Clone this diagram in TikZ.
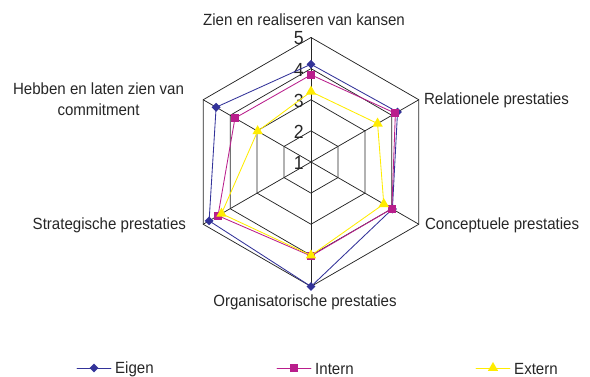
\documentclass[tikz,border=0pt]{standalone}
\usepackage{fontspec}
\setmainfont[FakeStretch=0.93]{Liberation Sans}
\usetikzlibrary{shapes.geometric}
\definecolor{eigen}{RGB}{51,51,153}
\definecolor{intern}{RGB}{185,30,140}
\definecolor{extern}{RGB}{255,236,0}
\begin{document}
\begin{tikzpicture}[font=\fontsize{16.2}{21}\selectfont, line join=round, line cap=round, x=1pt, y=1pt,
  grid/.style={black!85, line width=0.75pt},
  series/.style={line width=0.85pt},
  eigenmark/.style={diamond, fill=eigen, inner sep=0pt, minimum size=9pt},
  internmark/.style={rectangle, fill=intern, inner sep=0pt, minimum size=8pt},
  externmark/.style={regular polygon, regular polygon sides=3, fill=extern, inner sep=0pt, minimum size=12pt},
  axislabel/.style={inner sep=0pt, align=center, text=black!85}]
\def \u{31.125};
\useasboundingbox (0,0) rectangle (590,377);
\begin{scope}[shift={(311,215)}]
\coordinate (M) at (0,0);
\foreach \a [count=\i] in {90,30,-30,-90,-150,150}{\coordinate (o\i) at (\a:4*\u);}
% raster
\foreach \r in {1,...,4}{\draw[grid] (90:\r*\u) \foreach \a in {30,-30,-90,-150,150}{-- (\a:\r*\u)} -- cycle;}
\foreach \i in {1,...,6}{\draw[grid] (M) -- (o\i);}
\foreach \v in {1,...,5}{\node[anchor=east, inner sep=0pt, text=black!85, font=\fontsize{19}{19}\selectfont] (t\v) at (-7,{(\v-1)*\u-1}) {\v};}
% Eigen
\foreach \a/\v [count=\i] in {90/4.14,30/4.21,-30/4.02,-90/5,-150/4.78,150/4.52}{\coordinate (e\i) at (\a:{(\v-1)*\u});}
\draw[series, eigen] (e1) -- (e2) -- (e3) -- (e4) -- (e5) -- (e6) -- cycle;
\foreach \i in {1,...,6}{\node[eigenmark] at (e\i) {};}
% Intern
\foreach \a/\v [count=\i] in {90/3.8,30/4.13,-30/4.0,-90/4.02,-150/4.45,150/3.82}{\coordinate (n\i) at (\a:{(\v-1)*\u});}
\draw[series, intern] (n1) -- (n2) -- (n3) -- (n4) -- (n5) -- (n6) -- cycle;
\foreach \i in {1,...,6}{\node[internmark] at (n\i) {};}
% Extern
\foreach \a/\v [count=\i] in {90/3.26,30/3.47,-30/3.7,-90/4.0,-150/4.32,150/2.98}{\coordinate (x\i) at (\a:{(\v-1)*\u});}
\draw[series, extern] (x1) -- (x2) -- (x3) -- (x4) -- (x5) -- (x6) -- cycle;
\foreach \i in {1,...,6}{\node[externmark] at (x\i) {};}
% labels
\node[axislabel] (zien) at ([xshift=-7pt, yshift=18pt]o1) {Zien en realiseren van kansen};
\node[axislabel, anchor=west] (relationeel) at ([xshift=5pt, yshift=-1pt]o2) {Relationele prestaties};
\node[axislabel, anchor=west] (conceptueel) at ([xshift=6pt, yshift=-1pt]o3) {Conceptuele prestaties};
\node[axislabel] (organisatorisch) at ([xshift=-6pt, yshift=-16pt]o4) {Organisatorische prestaties};
\node[axislabel, anchor=east] (strategisch) at ([xshift=-17pt, yshift=-1pt]o5) {Strategische prestaties};
\node[axislabel, anchor=east] (commitment) at ([xshift=-19pt, yshift=1pt]o6) {Hebben en laten zien van\\commitment};
\end{scope}
% legend
\foreach \n/\x/\t in {eigen/77/Eigen,intern/277/Intern,extern/476/Extern}{
  \coordinate (\n a) at (\x,9);
  \coordinate (\n b) at (\x+34,9);
  \draw[series, \n] (\n a) -- (\n b);
  \node[\n mark] (\n m) at (\x+17,9) {};
  \node[axislabel, anchor=west] (\n t) at (\x+38,8) {\t};
}
\end{tikzpicture}
\end{document}
